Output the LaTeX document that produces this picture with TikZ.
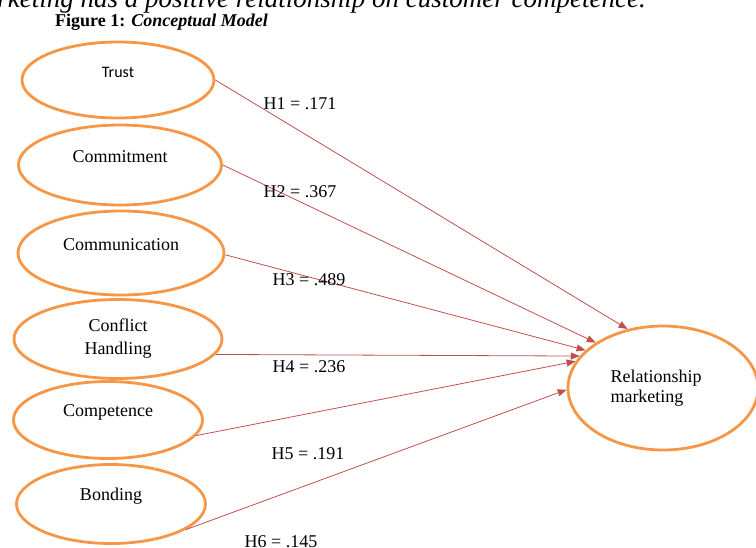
\documentclass[tikz,border=0pt]{standalone}
\usepackage{fontspec}
\setmainfont{Liberation Serif}
\newfontfamily\calibri{Carlito}
\usetikzlibrary{arrows.meta,shapes.geometric}
\definecolor{orng}{HTML}{F79646}
\definecolor{rline}{HTML}{C0504D}
\tikzset{
    var/.style={ellipse, draw=orng, line width=2.8pt, inner sep=0pt},
    lbl/.style={yshift=8pt},
    link/.style={draw=rline, line width=0.8pt, -{Triangle[length=9pt,width=7pt]}},
    hyp/.style={anchor=base, inner sep=0pt}
}
\begin{document}
\begin{tikzpicture}[x=1pt, y=-1pt, font=\fontsize{18}{23}\selectfont]
    \useasboundingbox (0,0) rectangle (756,547);
    \clip (0,0) rectangle (756,547);

    \node[anchor=base east, inner sep=0pt, font=\fontsize{27}{30}\selectfont\itshape] (head) at (646,7)
        {marketing has a positive relationship on customer competence.};
    \node[anchor=base west, inner sep=0pt, font=\fontsize{18}{20}\selectfont\bfseries] (fig) at (55,26)
        {Figure 1: \textit{Conceptual Model}};

    \node[var, minimum width=192pt, minimum height=76pt,
        label={[lbl, font=\calibri\fontsize{16}{19}\selectfont]center:Trust}] (trust) at (118,80) {};
    \node[var, minimum width=203pt, minimum height=80pt,
        label={[lbl]center:Commitment}] (commit) at (120,165) {};
    \node[var, minimum width=206pt, minimum height=84pt,
        label={[lbl]center:Communication}] (commun) at (121,253) {};
    \node[var, minimum width=208pt, minimum height=79pt,
        label={[align=center]center:{Conflict\\Handling}}] (conflict) at (118,339) {};
    \node[var, minimum width=189pt, minimum height=77pt,
        label={[lbl]center:Competence}] (compet) at (108,420) {};
    \node[var, minimum width=189pt, minimum height=79pt,
        label={[lbl]center:Bonding}] (bonding) at (111,504) {};

    \node[var, minimum width=190pt, minimum height=124pt,
        label={[align=left, xshift=-7pt, font=\fontsize{18}{20}\selectfont]center:{Relationship\\marketing}}] (rm) at (663,388) {};

    \foreach \src/\a/\b in {trust/0/121, commit/0/146, commun/-1/154, conflict/-9/159, compet/-10/163, bonding/-19/181}
        \draw[link] (\src.\a) -- (rm.\b);

    \node[hyp] (h1) at (300,109) {H1 = .171};
    \node[hyp] (h2) at (300,197) {H2 = .367};
    \node[hyp] (h3) at (309,285) {H3 = .489};
    \node[hyp] (h4) at (309,372) {H4 = .236};
    \node[hyp] (h5) at (308,459) {H5 = .191};
    \node[hyp] (h6) at (281,547) {H6 = .145};
\end{tikzpicture}
\end{document}
